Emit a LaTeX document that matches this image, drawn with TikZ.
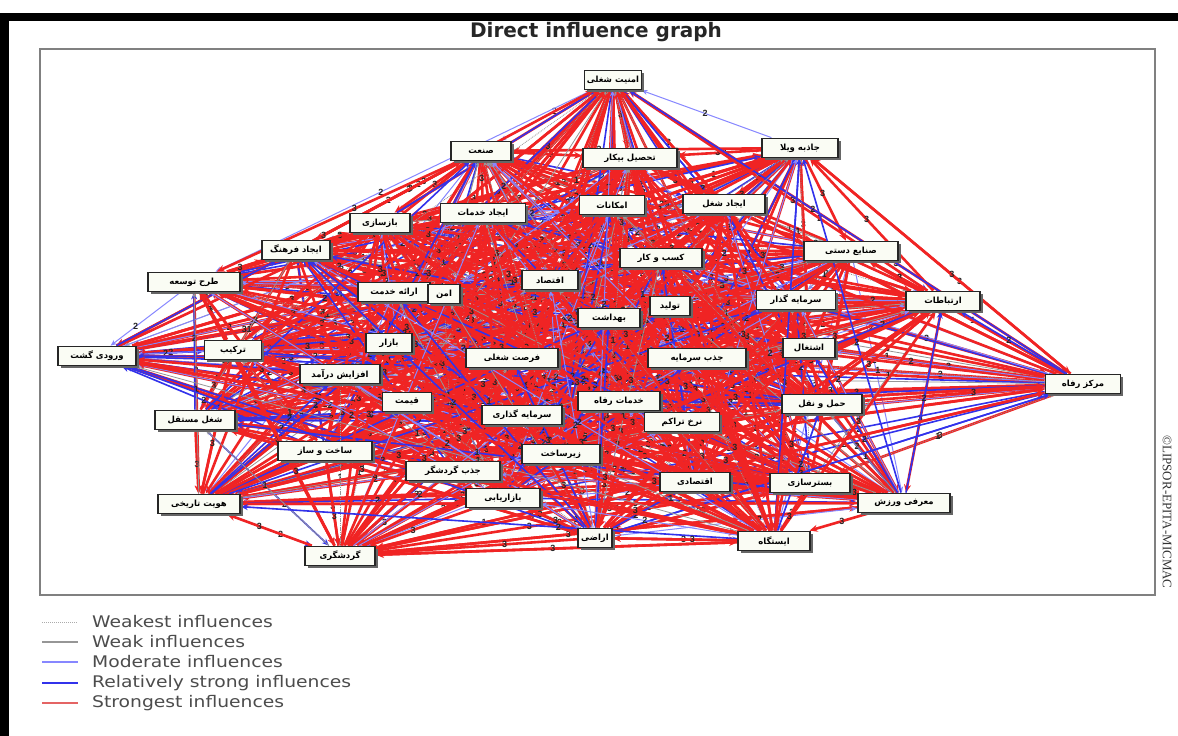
\documentclass[tikz,border=0pt]{standalone}
\usepackage{fontspec}
\setmainfont{Liberation Sans}
\newfontfamily\farsi[Script=Arabic]{DejaVu Sans}
\newfontfamily\legfont[FakeStretch=1.17]{DejaVu Sans}
\newfontfamily\titlefont{DejaVu Sans}
\newfontfamily\serifed{Liberation Serif}
\TeXXeTstate=1
\usetikzlibrary{arrows.meta,shadows}
\pgfdeclarelayer{back}
\pgfdeclarelayer{edges}
\pgfsetlayers{back,edges,main}
\definecolor{redE}{RGB}{240,36,36}
\definecolor{blueE}{RGB}{50,50,235}
\definecolor{lblueE}{RGB}{135,135,255}
\definecolor{greyE}{RGB}{150,150,150}
\definecolor{legred}{RGB}{228,100,100}
\definecolor{boxfill}{RGB}{250,252,244}
\tikzset{
  box/.style={draw=black!85, line width=1.8pt, fill=boxfill, text=black,
    font=\farsi\bfseries\fontsize{8.5}{9}\selectfont, inner xsep=2pt, inner ysep=1.5pt,
    minimum height=19pt,
    drop shadow={shadow xshift=2.5pt, shadow yshift=-2.5pt, fill=black!60, opacity=1}},
  ew0/.style={draw=greyE, densely dotted, line width=0.8pt, -{Stealth[length=5pt,width=4pt]}},
  ew1/.style={draw=greyE, line width=0.8pt, -{Stealth[length=5pt,width=4pt]}},
  ew2/.style={draw=lblueE, line width=1pt, -{Stealth[length=6pt,width=5pt]}},
  ew3/.style={draw=blueE, line width=1.6pt, -{Stealth[length=7pt,width=6pt]}},
  ew4/.style={draw=redE, line width=2.6pt, -{Stealth[length=8pt,width=7pt]}},
  edge/.code={\ifcase#1\tikzset{ew0}\or\tikzset{ew1}\or\tikzset{ew2}\or\tikzset{ew3}\or\tikzset{ew4}\fi},
  lbl/.style={font=\fontsize{9}{9}\selectfont\bfseries, text=black!85, inner sep=0pt},
  lg0/.style={draw=greyE!80, densely dotted, line width=1pt},
  lg1/.style={draw=greyE, line width=1.4pt},
  lg2/.style={draw=lblueE, line width=1.4pt},
  lg3/.style={draw=blueE, line width=1.8pt},
  lg4/.style={draw=legred, line width=1.8pt},
  legtext/.style={font=\legfont\fontsize{16}{16}\selectfont, text=black!70, anchor=west, inner sep=0pt}
}
\begin{document}
\begin{tikzpicture}[x=1pt,y=-1pt]
\useasboundingbox (0,0) rectangle (1178,736);
\begin{pgfonlayer}{back}
\fill[white] (0,0) rectangle (1178,736);
\fill[black] (0,13) rectangle (1178,21);
\fill[black] (0,13) rectangle (9,736);
\draw[black!50, line width=2.5pt] (40,49) rectangle (1155,595);
\end{pgfonlayer}
\node[font=\titlefont\bfseries\fontsize{20}{20}\selectfont, text=black!85] (title) at (596,32) {Direct influence graph};
\foreach \k/\x/\y/\w/\t in {
 1/613/80/57/{امنیت شغلی},
 2/481/151/60/{صنعت},
 3/630/158/94/{تحصیل بیکار},
 4/800/148/76/{جاذبه ویلا},
 5/483/213/85/{ایجاد خدمات},
 6/612/205/65/{امکانات},
 7/724/204/82/{ایجاد شغل},
 8/380/223/60/{بازسازی},
 9/296/250/68/{ایجاد فرهنگ},
 10/194/282/92/{طرح توسعه},
 11/394/292/72/{ارائه خدمت},
 12/444/294/32/{امن},
 13/550/280/56/{اقتصاد},
 14/661/258/82/{کسب و کار},
 15/851/251/94/{صنایع دستی},
 16/670/306/40/{تولید},
 17/609/318/62/{بهداشت},
 18/796/300/79/{سرمایه گذار},
 19/943/301/74/{ارتباطات},
 20/97/356/78/{ورودی گشت},
 21/233/350/57/{ترکیب},
 22/389/343/46/{بازار},
 23/512/358/92/{فرصت شغلی},
 24/697/358/98/{جذب سرمایه},
 25/809/348/52/{اشتغال},
 26/1083/384/75/{مرکز رفاه},
 27/340/374/80/{افزایش درآمد},
 28/407/402/49/{قیمت},
 29/195/420/80/{شغل مستقل},
 30/619/401/82/{خدمات رفاه},
 31/522/415/80/{سرمایه گذاری},
 32/682/422/75/{نرخ تراکم},
 33/822/404/80/{حمل و نقل},
 34/325/451/94/{ساخت و ساز},
 35/561/454/78/{زیرساخت},
 36/453/471/94/{جذب گردشگر},
 37/695/482/70/{اقتصادی},
 38/810/483/80/{بسترسازی},
 39/199/504/82/{هویت تاریخی},
 40/503/498/74/{بازاریابی},
 41/904/503/92/{معرفی ورزش},
 42/340/556/70/{گردشگری},
 43/595/538/34/{اراضی},
 44/774/541/72/{ایستگاه}}
 {\node[box, minimum width=\w pt] (n\k) at (\x,\y) {\beginR\t\endR};}
\begin{pgfonlayer}{edges}
\pgfmathsetseed{7}
\foreach \i in {1,...,44}{
  \foreach \j in {1,...,44}{
    \ifnum\i=\j\else
    \pgfmathrandominteger{\h}{0}{99}
    \pgfmathrandominteger{\c}{0}{99}
    \pgfmathrandominteger{\p}{35}{65}
    \ifnum\c<62 \def\k{4}\def\lab{3}\else\ifnum\c<76 \def\k{3}\def\lab{2}\else\ifnum\c<88 \def\k{2}\def\lab{2}\else\ifnum\c<93 \def\k{1}\def\lab{1}\else\def\k{0}\def\lab{1}\fi\fi\fi\fi
    \ifnum\h<66
      \draw[edge=\k] (n\i) -- node[lbl,pos=0.\p]{\lab} (n\j);
    \fi
    \fi
  }
}
\end{pgfonlayer}
% legend
\coordinate (l0a) at (42,622); \coordinate (l0b) at (78,622);
\coordinate (l1a) at (42,642); \coordinate (l1b) at (78,642);
\coordinate (l2a) at (42,662); \coordinate (l2b) at (78,662);
\coordinate (l3a) at (42,683); \coordinate (l3b) at (78,683);
\coordinate (l4a) at (42,703); \coordinate (l4b) at (78,703);
\draw[lg0] (l0a) -- (l0b);
\draw[lg1] (l1a) -- (l1b);
\draw[lg2] (l2a) -- (l2b);
\draw[lg3] (l3a) -- (l3b);
\draw[lg4] (l4a) -- (l4b);
\node[legtext] (t0) at (92,622) {Weakest influences};
\node[legtext] (t1) at (92,642) {Weak influences};
\node[legtext] (t2) at (92,662) {Moderate influences};
\node[legtext] (t3) at (92,683) {Relatively strong influences};
\node[legtext] (t4) at (92,703) {Strongest influences};
\node[rotate=-90, font=\serifed\fontsize{13}{13}\selectfont, text=black!80] (copy) at (1167,512) {©LIPSOR-EPITA-MICMAC};
\end{tikzpicture}
\end{document}
